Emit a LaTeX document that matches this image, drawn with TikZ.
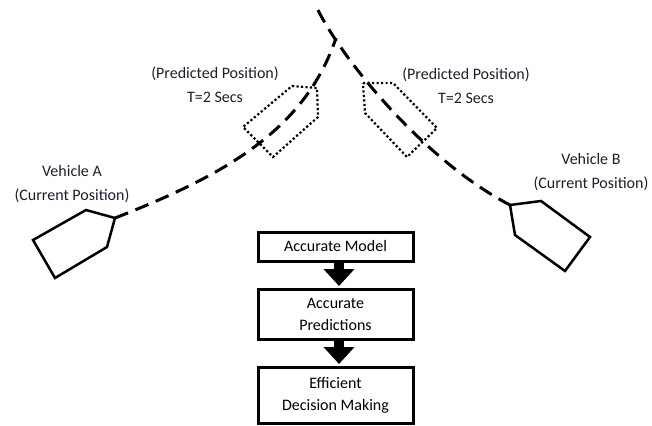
\documentclass[tikz,border=0pt]{standalone}
\usepackage{fontspec}
\setmainfont{Carlito}
\usetikzlibrary{arrows.meta}
\definecolor{ink}{HTML}{1A1F2B}
\begin{document}
\begin{tikzpicture}[x=1pt,y=-1pt,
  vehicle/.style={line width=2.5pt, line join=miter},
  ghost/.style={line width=2.2pt, dash pattern=on 2.2pt off 2.3pt},
  track/.style={line width=3pt, dash pattern=on 14pt off 8pt},
  tag/.style={text=ink, align=center, font=\fontsize{16}{24}\selectfont, inner sep=0pt},
  stage/.style={draw, line width=3pt, fill=white, align=center, minimum width=155pt,
                inner sep=0pt, font=\fontsize{16}{22}\selectfont},
  flow/.style={line width=10pt, -{Triangle[width=30pt,length=17pt]}, shorten >=1.5pt}
]
\useasboundingbox (0,0) rectangle (652,425);

% vehicles at their current positions
\draw[vehicle] (86,210) -- (115,218) -- (107,247) -- (55,278) -- (33,240) -- cycle;
\coordinate (vA) at (115,218);
\draw[vehicle] (510,205) -- (541,201) -- (590,237) -- (565,271) -- (515,235) -- cycle;
\coordinate (vB) at (510,205);

% predicted positions after two seconds
\draw[ghost] (292,86) -- (317,88) -- (318,117) -- (273,157) -- (243,127) -- cycle;
\draw[ghost] (363,83) -- (393,83) -- (437,128) -- (407,157) -- (365,113) -- cycle;

% trajectories
\coordinate (meet) at (336,38);
\coordinate (far) at (318,10);
\draw[track] (vA) .. controls (225,175) and (305,130) .. (meet);
\draw[track] (far) .. controls (340,55) and (420,158) .. (vB);

% labels
\node[tag] (la) at (72,184) {Vehicle A\\(Current Position)};
\node[tag] (lb) at (591,172) {Vehicle B\\(Current Position)};
\node[tag] (pa) at (215,85) {(Predicted Position)\\T=2 Secs};
\node[tag] (pb) at (466,86) {(Predicted Position)\\T=2 Secs};

% pipeline
\node[stage, minimum height=29pt] (b1) at (335.5,246.5) {Accurate Model};
\node[stage, minimum height=50pt] (b2) at (335.5,314) {Accurate\\Predictions};
\node[stage, minimum height=56pt] (b3) at (335.5,395) {Efficient\\Decision Making};
\draw[flow] ([xshift=3.5pt]b1.south) -- ([xshift=3.5pt]b2.north);
\draw[flow] ([xshift=3.5pt]b2.south) -- ([xshift=3.5pt]b3.north);
\end{tikzpicture}
\end{document}
